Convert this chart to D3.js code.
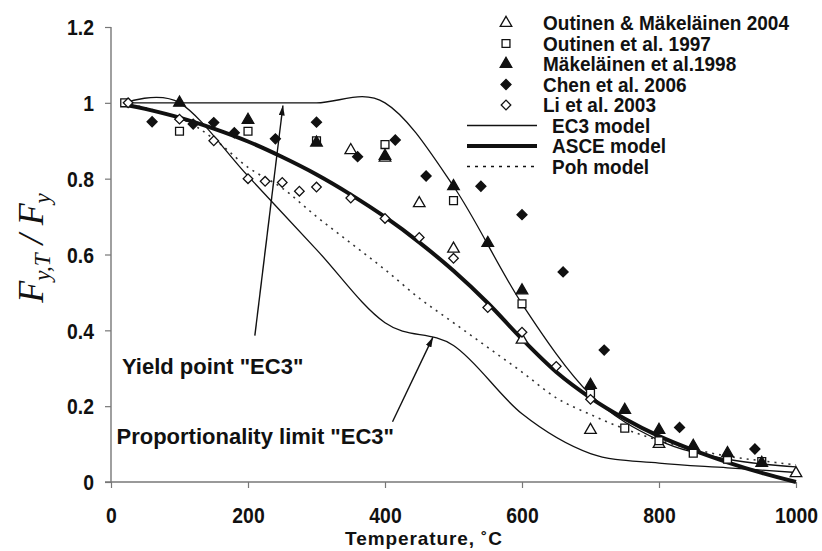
<!DOCTYPE html>
<html>
<head>
<meta charset="utf-8">
<script src="https://cdn.jsdelivr.net/npm/d3@7"></script>
<style>
  body { margin: 0; background: #fff; }
  svg { display: block; font-family: Arial, "Liberation Sans", sans-serif; }
</style>
</head>
<body>
<svg id="chart" width="822" height="551"></svg>
<script>
// tick values / labels
var tempTicks = [0, 200, 400, 600, 800, 1000];
var ratioTicks = [0, 0.2, 0.4, 0.6, 0.8, 1, 1.2];
var ratioTickLabels = ['0', '0.2', '0.4', '0.6', '0.8', '1', '1.2'];

// test data, [temperature, Fy,T/Fy]
var outinen2004 = [[350, 0.875], [400, 0.855], [450, 0.735], [500, 0.615], [600, 0.375],
  [700, 0.137], [800, 0.10], [1000, 0.023]];
var outinen1997 = [[20, 1.0], [100, 0.925], [200, 0.925], [300, 0.90], [400, 0.89], [500, 0.742],
  [600, 0.47], [700, 0.234], [750, 0.142], [800, 0.109], [850, 0.076], [900, 0.06], [950, 0.054]];
var makelainen1998 = [[100, 1.0], [200, 0.955], [300, 0.895], [400, 0.86], [500, 0.78], [550, 0.63],
  [600, 0.505], [700, 0.256], [750, 0.19], [800, 0.137], [850, 0.095], [900, 0.076], [950, 0.05]];
var chen2006 = [[60, 0.95], [120, 0.944], [150, 0.948], [180, 0.921], [240, 0.905], [300, 0.949],
  [360, 0.858], [415, 0.902], [460, 0.807], [540, 0.78], [600, 0.705], [660, 0.554], [720, 0.348],
  [830, 0.144], [940, 0.087]];
var li2003 = [[25, 1.0], [100, 0.957], [150, 0.90], [200, 0.80], [225, 0.793], [250, 0.79],
  [275, 0.767], [300, 0.778], [350, 0.749], [400, 0.695], [450, 0.645], [500, 0.59], [550, 0.46],
  [600, 0.395], [650, 0.305], [700, 0.218]];

// models
var ec3Temps = [20, 100, 200, 300, 400, 500, 600, 700, 800, 900, 1000];
var ec3Yield = [1, 1, 1, 1, 1, 0.78, 0.47, 0.23, 0.11, 0.06, 0.04];
var ec3Prop = [1, 1, 0.807, 0.613, 0.42, 0.36, 0.18, 0.075, 0.05, 0.0375, 0.025];
var asceTemps = [20, 50, 100, 150, 200, 250, 300, 350, 400, 450, 500, 550, 600, 650, 700, 750, 800, 850, 900, 950, 1000];
var asceVals = [0.995, 0.984, 0.961, 0.932, 0.898, 0.857, 0.811, 0.758, 0.699, 0.632, 0.557, 0.472,
  0.377, 0.290, 0.222, 0.167, 0.121, 0.084, 0.052, 0.024, 0];
var pohTemps = [20, 100, 150, 200, 250, 300, 350, 400, 450, 500, 550, 600, 650, 700, 750, 800, 850, 900, 950, 1000];
var pohVals = [1.0, 0.96, 0.905, 0.83, 0.775, 0.70, 0.63, 0.56, 0.485, 0.42, 0.355, 0.29, 0.222,
  0.178, 0.14, 0.11, 0.087, 0.068, 0.056, 0.045];

// annotations, [text start T, value] and arrow [from, to]
var yieldNote = {text: 'Yield point "EC3"', at: [16, 0.285], from: [210, 0.386], to: [251, 0.993]};
var propNote = {text: 'Proportionality limit "EC3"', at: [8, 0.10], from: [411, 0.159], to: [470, 0.382]};

var svg = d3.select('#chart');
var ink = '#111';

var x = d3.scaleLinear().domain([0, 1000]).range([111, 796]);
var y = d3.scaleLinear().domain([0, 1.2]).range([482, 27]);

svg.append('defs').append('marker')
  .attr('id', 'head')
  .attr('viewBox', '0 0 10 6')
  .attr('refX', 10).attr('refY', 3)
  .attr('markerWidth', 10).attr('markerHeight', 6)
  .attr('markerUnits', 'userSpaceOnUse')
  .attr('orient', 'auto')
  .append('path').attr('d', 'M0,0L10,3L0,6z').attr('fill', ink);

// axes
var yAxis = svg.append('g')
  .attr('transform', 'translate(' + x(0) + ',0)')
  .call(d3.axisLeft(y).tickValues(ratioTicks).tickSize(6)
    .tickFormat(function(d, i) { return ratioTickLabels[i]; }));
var xAxis = svg.append('g')
  .attr('transform', 'translate(0,' + y(0) + ')')
  .call(d3.axisBottom(x).tickValues(tempTicks).tickSize(6).tickFormat(d3.format('d')));

[yAxis, xAxis].forEach(function(ax) {
  ax.select('.domain').attr('stroke', '#777').attr('stroke-width', 1.4);
  ax.selectAll('.tick line').attr('stroke', '#777').attr('stroke-width', 1.2);
  ax.selectAll('text').attr('font-size', 22).attr('font-weight', 'bold').attr('fill', ink)
    .attr('font-family', 'Arial, "Liberation Sans", sans-serif');
});
// x axis line reaches a bit left of the y axis
xAxis.select('.domain').attr('d', 'M' + (x(0) - 6) + ',0H' + x(1000));
yAxis.select('.domain').attr('d', 'M0,' + y(1.2) + 'V' + y(0));
yAxis.selectAll('text').attr('x', 0).attr('dy', '0.35em')
  .attr('transform', 'translate(-17,0) scale(0.88,1)');
xAxis.selectAll('text').attr('y', 0).attr('dy', 0)
  .attr('transform', 'translate(0,41) scale(0.88,1)');

// axis titles
svg.append('text')
  .attr('x', 424).attr('y', 545)
  .attr('text-anchor', 'middle')
  .attr('font-size', 19).attr('font-weight', 'bold').attr('fill', ink)
  .attr('letter-spacing', 0.9)
  .text('Temperature, \u02daC');

var ylab = svg.append('text')
  .attr('transform', 'translate(43,248) rotate(-90)')
  .attr('text-anchor', 'middle')
  .attr('font-family', '"Liberation Serif", "DejaVu Serif", serif')
  .attr('font-style', 'italic')
  .attr('font-size', 36).attr('fill', ink);
ylab.append('tspan').text('F');
ylab.append('tspan').attr('font-size', 23).attr('dy', 7).text('y,T');
ylab.append('tspan').attr('dy', -7).text(' / F');
ylab.append('tspan').attr('font-size', 23).attr('dy', 7).text('y');

// model curves
function curvePts(ts, vs) { return ts.map(function(t, i) { return [t, vs[i]]; }); }
var smooth = d3.line()
  .x(function(d) { return x(d[0]); })
  .y(function(d) { return y(d[1]); })
  .curve(d3.curveCardinal.tension(0));

svg.append('path').datum(curvePts(pohTemps, pohVals))
  .attr('d', smooth).attr('fill', 'none').attr('stroke', '#333')
  .attr('stroke-width', 1.6).attr('stroke-dasharray', '2,5');
svg.append('path').datum(curvePts(ec3Temps, ec3Yield))
  .attr('d', smooth).attr('fill', 'none').attr('stroke', ink).attr('stroke-width', 1.3);
svg.append('path').datum(curvePts(ec3Temps, ec3Prop))
  .attr('d', smooth).attr('fill', 'none').attr('stroke', ink).attr('stroke-width', 1.3);
svg.append('path').datum(curvePts(asceTemps, asceVals))
  .attr('d', smooth).attr('fill', 'none').attr('stroke', ink).attr('stroke-width', 4);

// markers
var shapes = {
  triOpen: {type: d3.symbolTriangle, size: 58, fill: '#fff', rot: 0},
  square: {type: d3.symbolSquare, size: 62, fill: '#fff', rot: 0},
  triFill: {type: d3.symbolTriangle, size: 58, fill: ink, rot: 0},
  diaFill: {type: d3.symbolSquare, size: 50, fill: ink, rot: 45},
  diaOpen: {type: d3.symbolSquare, size: 46, fill: '#fff', rot: 45}
};
var series = [
  {name: 'Outinen & M\u00e4kel\u00e4inen 2004', data: outinen2004, shape: 'triOpen'},
  {name: 'Outinen et al. 1997', data: outinen1997, shape: 'square'},
  {name: 'M\u00e4kel\u00e4inen et al.1998', data: makelainen1998, shape: 'triFill'},
  {name: 'Chen et al. 2006', data: chen2006, shape: 'diaFill'},
  {name: 'Li et al. 2003', data: li2003, shape: 'diaOpen'}
];

function drawMarker(g, shape) {
  var s = shapes[shape];
  g.append('path')
    .attr('d', d3.symbol().type(s.type).size(s.size)())
    .attr('transform', 'rotate(' + s.rot + ')')
    .attr('fill', s.fill).attr('stroke', ink).attr('stroke-width', 1.3);
}

series.forEach(function(sr) {
  svg.append('g').selectAll('g').data(sr.data).enter()
    .append('g')
    .attr('transform', function(d) { return 'translate(' + x(d[0]) + ',' + y(d[1]) + ')'; })
    .each(function() { drawMarker(d3.select(this), sr.shape); });
});

// annotations
[yieldNote, propNote].forEach(function(n) {
  svg.append('line')
    .attr('x1', x(n.from[0])).attr('y1', y(n.from[1]))
    .attr('x2', x(n.to[0])).attr('y2', y(n.to[1]))
    .attr('stroke', ink).attr('stroke-width', 1.4)
    .attr('marker-end', 'url(#head)');
  svg.append('text')
    .attr('x', x(n.at[0])).attr('y', y(n.at[1]))
    .attr('font-size', 22).attr('font-weight', 'bold').attr('fill', ink)
    .text(n.text);
});

// legend
var legend = svg.append('g').attr('transform', 'translate(0,23)');
var rowGap = 20.5;
series.forEach(function(sr, i) {
  var row = legend.append('g').attr('transform', 'translate(0,' + (i * rowGap) + ')');
  var m = row.append('g').attr('transform', 'translate(506,0)');
  drawMarker(m, sr.shape);
  row.append('text')
    .attr('transform', 'translate(543,7) scale(0.95,1)')
    .attr('font-size', 20).attr('font-weight', 'bold').attr('fill', ink)
    .text(sr.name);
});
var lineKeys = [
  {name: 'EC3 model', width: 1.3, dash: null},
  {name: 'ASCE model', width: 4, dash: null},
  {name: 'Poh model', width: 1.6, dash: '3,5'}
];
lineKeys.forEach(function(k, j) {
  var row = legend.append('g').attr('transform', 'translate(0,' + ((series.length + j) * rowGap) + ')');
  row.append('line')
    .attr('x1', 467).attr('x2', 537).attr('y1', 0).attr('y2', 0)
    .attr('stroke', ink).attr('stroke-width', k.width)
    .attr('stroke-dasharray', k.dash);
  row.append('text')
    .attr('transform', 'translate(552,7) scale(0.95,1)')
    .attr('font-size', 20).attr('font-weight', 'bold').attr('fill', ink)
    .text(k.name);
});
</script>
</body>
</html>
